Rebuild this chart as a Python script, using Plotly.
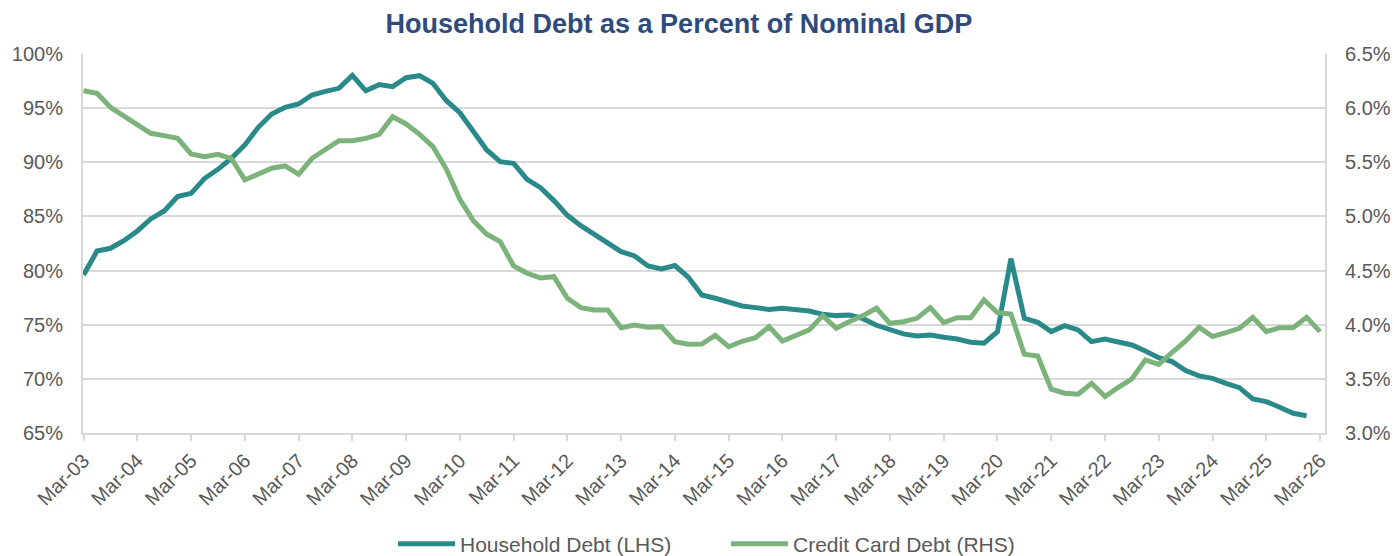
import plotly.graph_objects as go

# Quarterly observations, Mar-03 onward
household_debt = [
    79.6, 81.8, 82.06, 82.76, 83.66, 84.77, 85.5, 86.83, 87.13, 88.5, 89.35, 90.37,
    91.6, 93.23, 94.46, 95.08, 95.38, 96.21, 96.55, 96.83, 98.03, 96.6, 97.17, 96.98,
    97.81, 98.0, 97.29, 95.69, 94.58, 92.83, 91.14, 90.06, 89.9, 88.43, 87.65, 86.46,
    85.1, 84.15, 83.35, 82.6, 81.75, 81.35, 80.42, 80.15, 80.46, 79.38, 77.75, 77.44,
    77.07, 76.73, 76.58, 76.4, 76.52, 76.4, 76.27, 75.96, 75.84, 75.9, 75.56, 74.95,
    74.52, 74.15, 73.96, 74.05, 73.84, 73.68, 73.38, 73.29, 74.36, 81.1, 75.59, 75.22,
    74.36, 74.91, 74.52, 73.44, 73.68, 73.35, 73.13, 72.58, 71.95, 71.59, 70.76, 70.27,
    70.05, 69.59, 69.19, 68.14, 67.9, 67.38, 66.82, 66.6,
]

credit_card_debt = [
    6.161, 6.137, 6.008, 5.93, 5.844, 5.768, 5.746, 5.721, 5.577, 5.552, 5.574, 5.535,
    5.337, 5.392, 5.445, 5.466, 5.389, 5.537, 5.62, 5.70, 5.70, 5.721, 5.758, 5.921,
    5.854, 5.758, 5.644, 5.435, 5.158, 4.961, 4.835, 4.767, 4.542, 4.475, 4.432, 4.444,
    4.244, 4.158, 4.136, 4.136, 3.973, 3.998, 3.977, 3.982, 3.844, 3.819, 3.821, 3.902,
    3.797, 3.847, 3.88, 3.982, 3.85, 3.896, 3.952, 4.084, 3.967, 4.03, 4.084, 4.152,
    4.013, 4.028, 4.059, 4.158, 4.019, 4.065, 4.065, 4.229, 4.111, 4.099, 3.727, 3.711,
    3.404, 3.367, 3.358, 3.459, 3.336, 3.422, 3.499, 3.675, 3.633, 3.745, 3.85, 3.977,
    3.89, 3.927, 3.967, 4.068, 3.936, 3.973, 3.973, 4.068, 3.936,
]

tick_labels = ["Mar-%02d" % y for y in range(3, 27)]

hh_x = list(range(len(household_debt)))
cc_x = list(range(len(credit_card_debt)))
tick_vals = [4 * i for i in range(len(tick_labels))]

FONT = "Arial, 'Liberation Sans', sans-serif"
GRID = "#D9D9D9"
TXT = "#595959"

fig = go.Figure()
fig.add_trace(go.Scatter(
    x=hh_x, y=household_debt, mode="lines", name="Household Debt (LHS)",
    line=dict(color="#2A8A8A", width=5), yaxis="y",
))
fig.add_trace(go.Scatter(
    x=cc_x, y=credit_card_debt, mode="lines", name="Credit Card Debt (RHS)",
    line=dict(color="#7BB37A", width=5), yaxis="y2",
))

fig.update_layout(
    width=1394, height=556,
    margin=dict(l=83, r=69, t=54, b=123, autoexpand=False),
    paper_bgcolor="white", plot_bgcolor="white",
    font=dict(family=FONT, color=TXT, size=20),
    title=dict(
        text="<b>Household Debt as a Percent of Nominal GDP</b>",
        x=0.487, xanchor="center", y=0.957, yanchor="middle",
        font=dict(family=FONT, size=27, color="#2F4B7C"),
    ),
    xaxis=dict(
        range=[-0.04, 92.37], tickmode="array", tickvals=tick_vals, ticktext=tick_labels,
        tickangle=-45, showgrid=False, showline=True, linecolor=GRID, linewidth=2,
        ticks="outside", ticklen=6, tickcolor=GRID, tickwidth=2,
        tickfont=dict(size=20, color=TXT), zeroline=False, automargin=False,
    ),
    yaxis=dict(
        range=[65, 100], dtick=5, ticksuffix="%", showgrid=True, gridcolor=GRID,
        gridwidth=2, showline=True, linecolor=GRID, linewidth=2, zeroline=False,
        tickfont=dict(size=20, color=TXT), ticks="", ticklabelstandoff=14,
        automargin=False,
    ),
    yaxis2=dict(
        range=[3.0, 6.5], dtick=0.5, tickformat=".1f", ticksuffix="%",
        overlaying="y", side="right", showgrid=False, showline=True,
        linecolor=GRID, linewidth=2, zeroline=False,
        tickfont=dict(size=20, color=TXT), ticks="", ticklabelstandoff=14,
        automargin=False,
    ),
    legend=dict(
        orientation="h", x=(393 - 83) / 1242, xanchor="left", y=-0.293, yanchor="middle",
        font=dict(size=21, color=TXT), itemwidth=57, entrywidth=261,
        entrywidthmode="pixels", tracegroupgap=0,
        bgcolor="rgba(0,0,0,0)",
    ),
    showlegend=True,
)

fig.write_html("out.html")
